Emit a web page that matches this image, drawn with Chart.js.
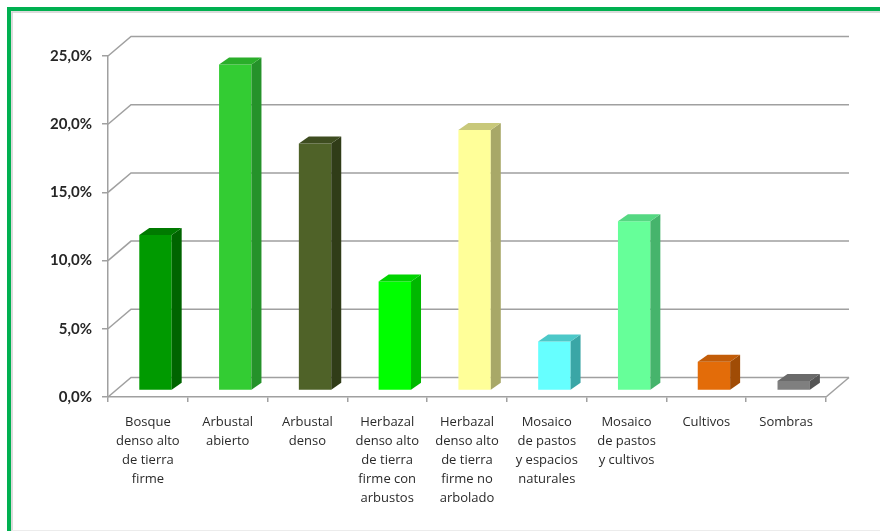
<!DOCTYPE html>
<html><head><meta charset="utf-8">
<script src="https://cdn.jsdelivr.net/npm/chart.js@4/dist/chart.umd.min.js"></script>
<style>html,body{margin:0;padding:0;background:#fff;}#wrap{width:880px;height:531px;}</style>
</head><body><div id="wrap"><canvas id="c" width="880" height="531"></canvas></div>
<script>
const categories = [
  ["Bosque","denso alto","de tierra","firme"],
  ["Arbustal","abierto"],
  ["Arbustal","denso"],
  ["Herbazal","denso alto","de tierra","firme con","arbustos"],
  ["Herbazal","denso alto","de tierra","firme no","arbolado"],
  ["Mosaico","de pastos","y espacios","naturales"],
  ["Mosaico","de pastos","y cultivos"],
  ["Cultivos"],
  ["Sombras"]
];
const shares = [11.4, 23.9, 18.1, 8.0, 19.1, 3.6, 12.4, 2.1, 0.7];
const yTicks = [0, 5, 10, 15, 20, 25];
const frontColors = ["#009A00","#33CC33","#4F6228","#00FF00","#FFFF99","#66FFFF","#66FF99","#E36C09","#7F7F7F"];
const sideColors  = ["#006400","#25922A","#303C18","#00B800","#A8A868","#3AA6A6","#46B46C","#A04C06","#555555"];
const topColors   = ["#007A00","#2AAE2A","#3E4D20","#00D400","#C8C87A","#4CC8C8","#55D882","#C25C08","#6A6A6A"];

const WALL_DX = 23, WALL_DY = -19.5;
const BAR_DX = 7.6, BAR_DY = -6.5;
const DEPTH_DX = 10, DEPTH_DY = -7;
const LINE = '#a0a0a0';

const scene = {
  id: 'scene',
  beforeDraw(chart) {
    const ctx = chart.ctx;
    ctx.save();
    ctx.fillStyle = '#fff'; ctx.fillRect(0, 0, chart.width, chart.height);
    ctx.fillStyle = '#00B050';
    ctx.fillRect(7, 7, chart.width - 7, 4);
    ctx.fillRect(7, 7, 4, chart.height - 7);
    ctx.strokeStyle = '#cfcfcf'; ctx.lineWidth = 1.5;
    ctx.beginPath(); ctx.moveTo(12, chart.height); ctx.lineTo(12, 12); ctx.lineTo(chart.width, 12); ctx.stroke();
    ctx.strokeStyle = '#ececec'; ctx.lineWidth = 1;
    ctx.beginPath(); ctx.moveTo(12, chart.height - 0.5); ctx.lineTo(chart.width, chart.height - 0.5); ctx.stroke();
    ctx.restore();
  },
  beforeDatasetsDraw(chart) {
    const { ctx, chartArea: a, scales: { y } } = chart;
    ctx.save();
    ctx.strokeStyle = LINE; ctx.lineWidth = 1.5;
    yTicks.forEach(v => {
      const py = y.getPixelForValue(v);
      ctx.beginPath();
      ctx.moveTo(a.left, py);
      ctx.lineTo(a.left + WALL_DX, py + WALL_DY);
      ctx.lineTo(a.right + WALL_DX, py + WALL_DY);
      ctx.stroke();
    });
    ctx.beginPath();
    ctx.moveTo(a.right, a.bottom);
    ctx.lineTo(a.right + WALL_DX, a.bottom + WALL_DY);
    ctx.stroke();
    ctx.restore();
    ctx.save();
    ctx.translate(BAR_DX, BAR_DY);
  },
  afterDatasetsDraw(chart) {
    const ctx = chart.ctx;
    const meta = chart.getDatasetMeta(0);
    meta.data.forEach((bar, i) => {
      const { x, y, base, width } = bar.getProps(['x', 'y', 'base', 'width'], true);
      const l = x - width / 2, r = x + width / 2;
      ctx.fillStyle = sideColors[i];
      ctx.beginPath();
      ctx.moveTo(r, y); ctx.lineTo(r + DEPTH_DX, y + DEPTH_DY);
      ctx.lineTo(r + DEPTH_DX, base + DEPTH_DY); ctx.lineTo(r, base);
      ctx.closePath(); ctx.fill();
      ctx.fillStyle = topColors[i];
      ctx.beginPath();
      ctx.moveTo(l, y); ctx.lineTo(l + DEPTH_DX, y + DEPTH_DY);
      ctx.lineTo(r + DEPTH_DX, y + DEPTH_DY); ctx.lineTo(r, y);
      ctx.closePath(); ctx.fill();
    });
    ctx.restore();
  }
};

new Chart(document.getElementById('c'), {
  type: 'bar',
  data: {
    labels: categories,
    datasets: [{
      data: shares,
      backgroundColor: frontColors,
      borderWidth: 0,
      categoryPercentage: 1,
      barPercentage: 0.406
    }]
  },
  options: {
    responsive: false,
    animation: false,
    layout: { padding: { top: 56, right: 54, left: 0, bottom: 0 } },
    plugins: { legend: { display: false }, tooltip: { enabled: false } },
    scales: {
      x: {
        grid: { display: true, drawOnChartArea: false, drawTicks: true, tickLength: 5, color: LINE, lineWidth: 1.5 },
        border: { display: true, color: LINE, width: 1.5 },
        ticks: { font: { family: "'Open Sans'", size: 13, lineHeight: 1.46 }, color: '#2a2a2a', padding: 11, maxRotation: 0, autoSkip: false },
        afterFit(s) { s.height = 134; }
      },
      y: {
        min: 0, max: 25,
        afterBuildTicks(s) { s.ticks = yTicks.map(v => ({ value: v })); },
        grid: { display: true, drawOnChartArea: false, drawTicks: true, tickLength: 6, color: LINE, lineWidth: 1.5 },
        border: { display: true, color: LINE, width: 1.5 },
        ticks: {
          font: { family: 'Lato', size: 15, weight: 'bold' }, color: '#262626', padding: 10,
          callback: v => v.toFixed(1).replace('.', ',') + '%'
        },
        afterFit(s) { s.width = 108; }
      }
    }
  },
  plugins: [scene]
});
</script>
</body></html>
